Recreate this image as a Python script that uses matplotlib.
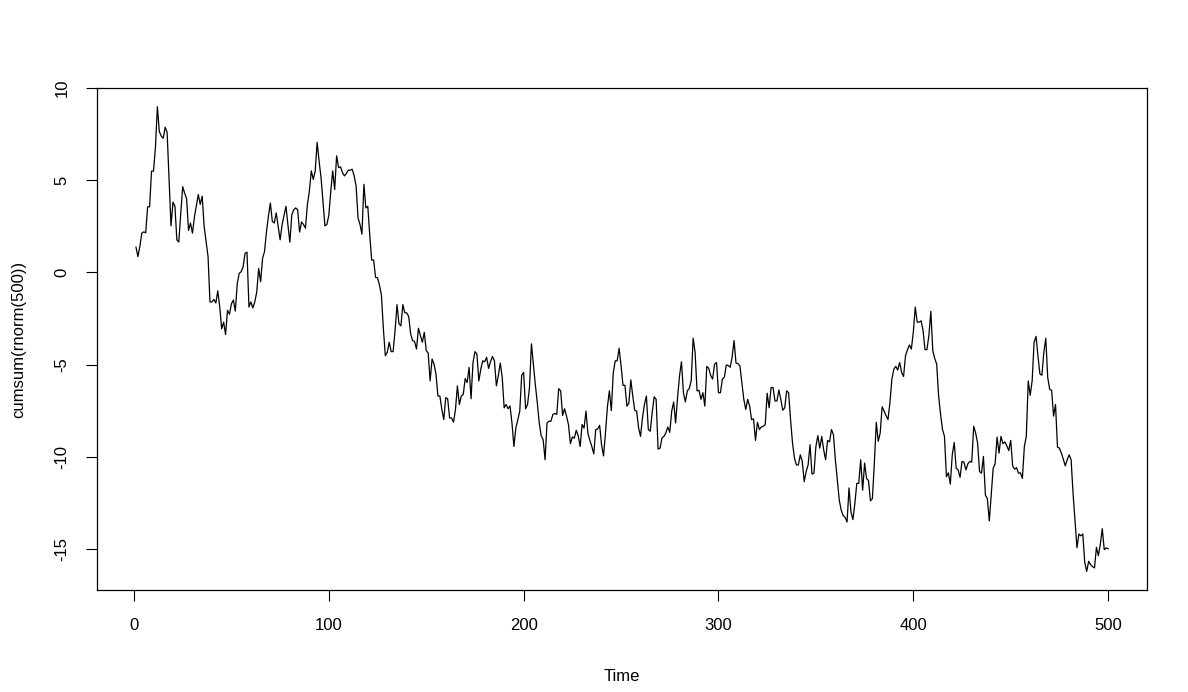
import matplotlib
matplotlib.use('Agg')
import matplotlib.pyplot as plt
import numpy as np

plt.rcParams['font.family'] = ['Liberation Sans', 'DejaVu Sans']

# values, one per time step 1..500
walk = [
    1.37, 0.86, 1.4, 2.13, 2.2, 2.15, 3.56, 3.56, 5.5, 5.5,
    6.78, 9.0, 7.64, 7.4, 7.28, 7.88, 7.6, 5.05, 2.53, 3.81,
    3.6, 1.77, 1.65, 3.2, 4.65, 4.3, 4.0, 2.28, 2.68, 2.13,
    3.0, 3.6, 4.23, 3.69, 4.14, 2.5, 1.7, 0.86, -1.6, -1.6,
    -1.47, -1.66, -1.0, -1.86, -3.06, -2.7, -3.37, -2.06, -2.27, -1.7,
    -1.5, -2.1, -0.6, -0.05, 0.04, 0.3, 1.04, 1.1, -1.88, -1.6,
    -1.93, -1.6, -1.06, 0.22, -0.51, 0.77, 1.13, 2.22, 3.05, 3.77,
    2.77, 2.68, 3.23, 2.5, 1.77, 2.58, 3.1, 3.59, 2.58, 1.64,
    3.13, 3.4, 3.5, 3.4, 2.19, 2.74, 2.6, 2.4, 3.68, 4.4,
    5.51, 5.05, 5.5, 7.06, 6.05, 5.15, 3.87, 2.53, 2.6, 3.1,
    4.41, 5.51, 4.5, 6.33, 5.69, 5.73, 5.42, 5.24, 5.37, 5.55,
    5.55, 5.6, 5.24, 4.7, 2.95, 2.6, 2.08, 4.78, 3.5, 3.59,
    2.04, 0.67, 0.67, -0.27, -0.29, -0.69, -1.24, -3.06, -4.52, -4.34,
    -3.79, -4.3, -4.3, -3.15, -1.75, -2.79, -2.9, -1.75, -2.19, -2.2,
    -2.4, -3.34, -3.7, -3.75, -4.16, -3.03, -3.43, -3.79, -3.25, -4.25,
    -4.38, -5.89, -4.7, -4.98, -5.52, -6.71, -6.71, -7.44, -7.99, -6.8,
    -6.86, -7.9, -7.9, -8.13, -7.44, -6.16, -7.17, -6.71, -6.62, -5.76,
    -5.98, -5.16, -6.86, -4.89, -4.3, -4.43, -5.89, -5.25, -4.8, -4.85,
    -4.61, -5.21, -4.84, -4.56, -4.8, -6.16, -5.6, -4.92, -5.7, -7.35,
    -7.17, -7.4, -7.25, -8.17, -9.45, -8.44, -8.0, -7.53, -5.58, -5.43,
    -7.4, -7.17, -6.25, -3.88, -4.98, -6.1, -7.07, -8.17, -8.86, -9.08,
    -10.17, -8.17, -8.08, -8.08, -7.71, -7.65, -7.71, -6.31, -6.43, -7.76,
    -7.4, -7.8, -8.26, -9.3, -8.93, -9.0, -8.57, -8.86, -9.45, -8.26,
    -8.45, -7.53, -8.75, -9.12, -9.45, -9.85, -8.53, -8.5, -8.3, -9.36,
    -9.96, -8.71, -7.29, -6.43, -7.5, -5.45, -4.8, -4.8, -4.12, -5.07,
    -6.13, -6.13, -7.26, -7.1, -5.83, -6.7, -7.48, -7.53, -8.44, -8.9,
    -7.89, -7.17, -6.71, -8.53, -8.62, -7.58, -6.75, -6.89, -9.59, -9.54,
    -8.99, -8.9, -8.71, -8.39, -8.68, -7.53, -7.03, -8.17, -6.8, -5.62,
    -4.85, -6.53, -7.03, -6.43, -6.3, -5.88, -3.57, -4.34, -6.43, -6.4,
    -6.89, -6.53, -7.26, -5.1, -5.2, -5.6, -5.79, -4.98, -4.89, -6.53,
    -6.53, -5.79, -5.7, -5.03, -5.05, -5.15, -4.6, -3.7, -4.92, -4.95,
    -5.07, -5.98, -6.89, -7.44, -6.89, -7.26, -7.99, -7.95, -9.12, -8.13,
    -8.53, -8.39, -8.35, -8.26, -6.56, -7.35, -6.25, -6.25, -6.98, -6.98,
    -6.38, -6.89, -7.48, -7.35, -6.43, -6.53, -7.99, -9.26, -10.08, -10.45,
    -10.45, -9.9, -10.26, -11.36, -10.81, -10.45, -9.35, -10.94, -10.9, -9.45,
    -8.86, -9.54, -8.9, -9.63, -10.17, -9.12, -9.2, -8.53, -8.8, -10.17,
    -11.27, -12.36, -12.91, -13.2, -13.3, -13.55, -11.7, -13.0, -13.42, -12.55,
    -11.45, -11.45, -10.17, -11.82, -10.35, -11.18, -11.3, -12.4, -12.28, -10.36,
    -8.13, -9.17, -8.72, -7.29, -7.53, -7.77, -7.99, -7.07, -5.8, -5.25,
    -5.1, -5.3, -4.89, -5.43, -5.65, -4.52, -4.2, -3.94, -4.16, -3.25,
    -1.88, -2.7, -2.7, -2.63, -3.15, -4.19, -4.19, -3.43, -2.11, -4.25,
    -4.67, -4.98, -6.71, -7.71, -8.53, -8.9, -11.09, -10.88, -11.49, -9.9,
    -9.23, -10.63, -10.72, -11.12, -10.26, -10.3, -10.72, -10.39, -10.26, -10.3,
    -8.35, -8.72, -9.26, -10.81, -10.9, -9.99, -12.09, -12.27, -13.49, -12.09,
    -10.63, -10.39, -8.94, -9.81, -8.9, -9.3, -9.2, -9.41, -9.67, -9.12,
    -10.5, -10.68, -10.6, -10.9, -10.88, -11.18, -9.45, -8.9, -5.89, -6.67,
    -5.89, -3.79, -3.47, -4.56, -5.52, -5.58, -4.34, -3.57, -5.71, -6.35,
    -6.4, -7.8, -7.17, -9.48, -9.54, -9.81, -10.14, -10.5, -10.17, -9.9,
    -10.17, -12.0, -13.46, -14.95, -14.2, -14.3, -14.2, -15.74, -16.23, -15.68,
    -15.86, -15.97, -16.04, -14.92, -15.38, -14.75, -13.91, -15.05, -14.95, -15.0,
]
time = np.arange(1, len(walk) + 1)

x_ticks = [0, 100, 200, 300, 400, 500]
y_ticks = [-15, -10, -5, 0, 5, 10]

fig = plt.figure(figsize=(11.88, 6.92), dpi=100)
ax = fig.add_axes([0.0817, 0.1474, 0.8838, 0.7254])

ax.plot(time, walk, color='black', lw=0.9)

# R style: 4% padding around the data range
xr = time.max() - time.min()
ax.set_xlim(time.min() - 0.04 * xr, time.max() + 0.04 * xr)
yr = max(walk) - min(walk)
ax.set_ylim(min(walk) - 0.04 * yr, max(walk) + 0.04 * yr)

for s in ax.spines.values():
    s.set_linewidth(0.9)

ax.set_xticks(x_ticks)
ax.set_yticks(y_ticks)
ax.set_yticklabels([str(v) for v in y_ticks], rotation=90, va='center')
ax.tick_params(direction='out', length=8, width=0.8, labelsize=12, pad=12)

ax.set_xlabel('Time', fontsize=12, labelpad=26)
ax.set_ylabel('cumsum(rnorm(500))', fontsize=12, labelpad=20)

fig.savefig('out.png', dpi=100)
